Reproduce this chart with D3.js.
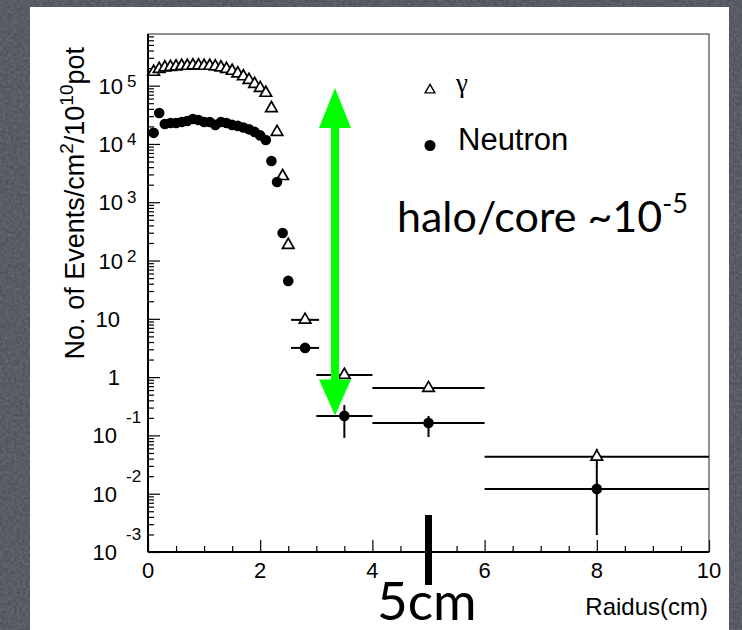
<!DOCTYPE html>
<html><head><meta charset="utf-8">
<script src="https://cdn.jsdelivr.net/npm/d3@7"></script>
<style>html,body{margin:0;padding:0;background:#4d5058;}</style>
</head><body>
<script>
// ---- data ----
const gammaX = [0.1,0.2,0.3,0.4,0.5,0.6,0.7,0.8,0.9,1.0,1.1,1.2,1.3,1.4,1.5,1.6,1.7,1.8,1.9,2.0,2.1,2.2,2.3,2.4,2.5,2.8,3.5,5,8];
const gammaY = [1.72e5,1.93e5,2.05e5,2.09e5,2.13e5,2.18e5,2.18e5,2.22e5,2.22e5,2.18e5,2.18e5,2.13e5,2.05e5,1.93e5,1.79e5,1.62e5,1.44e5,1.25e5,1.07e5,9.1e4,7.5e4,4.1e4,1.6e4,2.8e3,185,9.6,1.09,0.65,0.043];
const gammaXErr = [0,0,0,0,0,0,0,0,0,0,0,0,0,0,0,0,0,0,0,0,0,0,0,0,0,0.25,0.5,1,2];
const gammaYLow = [null,null,null,null,null,null,null,null,null,null,null,null,null,null,null,null,null,null,null,null,null,null,null,null,null,null,null,null,0.0257];
const gammaYHigh = [null,null,null,null,null,null,null,null,null,null,null,null,null,null,null,null,null,null,null,null,null,null,null,null,null,null,null,null,0.059];

const neutronX = gammaX.slice();
const neutronY = [1.55e4,3.4e4,2.2e4,2.29e4,2.29e4,2.38e4,2.48e4,2.68e4,2.58e4,2.38e4,2.38e4,2.12e4,2.38e4,2.29e4,2.12e4,2.04e4,1.92e4,1.78e4,1.61e4,1.4e4,1.17e4,5.1e3,2.23e3,297,44.7,3.17,0.216,0.164,0.0121];
const neutronXErr = gammaXErr.slice();
const neutronYLow = [null,null,null,null,null,null,null,null,null,null,null,null,null,null,null,null,null,null,null,null,null,null,null,null,null,null,0.0906,0.094,0.00195];
const neutronYHigh = [null,null,null,null,null,null,null,null,null,null,null,null,null,null,null,null,null,null,null,null,null,null,null,null,null,null,0.333,0.216,0.0257];

const xTickLabels = ["0","2","4","6","8","10"];
const yDecades = [-3,-2,-1,0,1,2,3,4,5];
const legendLabels = ["γ","Neutron"];
const xTitle = "Raidus(cm)";
const noteText = "halo/core ~10";
const noteSup = "-5";
const markText = "5cm";
const arrowTop = 9.1e4, arrowBottom = 0.22;   // data values the green arrow spans
const markX = 5;

// ---- drawing ----
const W = 742, H = 630;
const svg = d3.select("body").append("svg").attr("width", W).attr("height", H)
  .style("display","block");

const defs = svg.append("defs");
const flt = defs.append("filter").attr("id","grain").attr("x",0).attr("y",0).attr("width","100%").attr("height","100%");
flt.append("feTurbulence").attr("type","fractalNoise").attr("baseFrequency",0.35).attr("numOctaves",2).attr("seed",3).attr("result","n");
flt.append("feColorMatrix").attr("in","n").attr("type","matrix")
  .attr("values","0 0 0 0 0.2  0 0 0 0 0.21  0 0 0 0 0.24  0 0 0 0.9 -0.25");

svg.append("rect").attr("width",W).attr("height",H).attr("fill","#50535b");
svg.append("rect").attr("width",W).attr("height",H).attr("filter","url(#grain)");
svg.append("rect").attr("x",30).attr("y",7).attr("width",699).attr("height",640).attr("fill","#ffffff");

const x = d3.scaleLinear().domain([0,10]).range([148,709]);
const y = d3.scaleLog().domain([1e-3, Math.pow(10,5.886)]).range([552,34]);

// axes
const majorsY = yDecades.map(k => Math.pow(10,k));
const minorsY = [];
for (let k=-3;k<=5;k++) for (let m=2;m<=9;m++){ const v=m*Math.pow(10,k); if (v<=y.domain()[1]) minorsY.push(v);}
const axY1 = svg.append("g").attr("transform","translate(148,0)")
  .call(d3.axisLeft(y).tickValues(majorsY).tickSize(-12).tickFormat(""));
const axY2 = svg.append("g").attr("transform","translate(148,0)")
  .call(d3.axisLeft(y).tickValues(minorsY).tickSize(-6).tickFormat(""));
const axX1 = svg.append("g").attr("transform","translate(0,552)")
  .call(d3.axisBottom(x).tickValues(d3.range(0,10.01,2)).tickSize(-12).tickFormat(""));
const axX2 = svg.append("g").attr("transform","translate(0,552)")
  .call(d3.axisBottom(x).tickValues(d3.range(0.5,10,0.5).filter(v=>v%2!==0)).tickSize(-6).tickFormat(""));
[axY1,axY2,axX1,axX2].forEach(g=>{g.select(".domain").remove(); g.selectAll("line").attr("stroke","#000").attr("stroke-width",1.2);});

// frame
svg.append("rect").attr("x",148).attr("y",34).attr("width",709-148).attr("height",552-34)
  .attr("fill","none").attr("stroke","#222").attr("stroke-width",1);
svg.append("line").attr("x1",148).attr("x2",148).attr("y1",34).attr("y2",552).attr("stroke","#000").attr("stroke-width",2);
svg.append("line").attr("x1",148).attr("x2",709).attr("y1",552).attr("y2",552).attr("stroke","#000").attr("stroke-width",2);

const F = "'Liberation Sans', Arial, Helvetica, sans-serif";
// y tick labels
yDecades.forEach(k=>{
  const ty = y(Math.pow(10,k));
  const base = k===0 ? "1" : "10";
  const endX = k>=2 ? 123 : (k<0 ? 117 : 120);
  svg.append("text").attr("x",endX).attr("y",ty+8).attr("text-anchor","end")
    .attr("font-family",F).attr("font-size",22).attr("fill","#000").text(base);
  if (k>=2) svg.append("text").attr("x",127).attr("y",ty+1).attr("font-family",F).attr("font-size",17).text(String(k));
  if (k<0) svg.append("text").attr("x",126).attr("y",ty-12).attr("font-family",F).attr("font-size",17).text(String(k));
});
// x tick labels
xTickLabels.forEach((t,i)=>{
  svg.append("text").attr("x",x(+t)).attr("y",578).attr("text-anchor","middle")
    .attr("font-family",F).attr("font-size",22).text(t);
});
// titles
svg.append("text").attr("x",708).attr("y",615).attr("text-anchor","end")
  .attr("font-family",F).attr("font-size",24).text(xTitle);
const yt = svg.append("text").attr("transform","translate(84,47) rotate(-90)").attr("text-anchor","end")
  .attr("font-family",F).attr("font-size",27);
yt.append("tspan").text("No. of Events/cm");
yt.append("tspan").attr("font-size",19).attr("dy",-11).text("2");
yt.append("tspan").attr("dy",11).text("/10");
yt.append("tspan").attr("font-size",19).attr("dy",-11).text("10");
yt.append("tspan").attr("dy",11).text("pot");

// error bars
function bars(X, Y, XE, YL, YH){
  const g = svg.append("g").attr("stroke","#000").attr("stroke-width",2);
  X.forEach((xv,i)=>{
    if (XE[i]>0) g.append("line").attr("x1",x(xv-XE[i])).attr("x2",x(xv+XE[i])).attr("y1",y(Y[i])).attr("y2",y(Y[i]));
    if (YL[i]!=null) g.append("line").attr("x1",x(xv)).attr("x2",x(xv)).attr("y1",y(YL[i])).attr("y2",y(YH[i]));
  });
}
bars(gammaX,gammaY,gammaXErr,gammaYLow,gammaYHigh);
bars(neutronX,neutronY,neutronXErr,neutronYLow,neutronYHigh);

const tri = d3.symbol().type(d3.symbolTriangle).size(58);
svg.append("g").selectAll("path").data(gammaX).join("path")
  .attr("d",tri).attr("transform",(d,i)=>`translate(${x(d)},${y(gammaY[i])})`)
  .attr("fill","#fff").attr("stroke","#000").attr("stroke-width",1.7);
svg.append("g").selectAll("circle").data(neutronX).join("circle")
  .attr("cx",d=>x(d)).attr("cy",(d,i)=>y(neutronY[i])).attr("r",5.3).attr("fill","#000");

// legend
svg.append("path").attr("d",d3.symbol().type(d3.symbolTriangle).size(42)).attr("transform","translate(430,90)")
  .attr("fill","#fff").attr("stroke","#000").attr("stroke-width",1.4);
svg.append("text").attr("x",456).attr("y",92).attr("font-family","'Liberation Serif', 'DejaVu Serif', serif").attr("font-size",27).text(legendLabels[0]);
svg.append("circle").attr("cx",430).attr("cy",145.5).attr("r",5.5).attr("fill","#000");
svg.append("text").attr("x",458).attr("y",150).attr("font-family",F).attr("font-size",31).text(legendLabels[1]);

// annotation text
const nt = svg.append("text").attr("x",397).attr("y",232).attr("font-family","Lato, 'Open Sans', sans-serif").attr("font-size",43);
nt.append("tspan").text(noteText);
nt.append("tspan").attr("font-size",27).attr("dy",-19).text(noteSup);

// green arrow
const ax = 335;
const yT = y(arrowTop), yB = y(arrowBottom);
svg.append("line").attr("x1",ax).attr("x2",ax).attr("y1",yT+30).attr("y2",yB-30).attr("stroke","#00ff00").attr("stroke-width",8);
svg.append("path").attr("d",`M${ax},${yT} L${ax+16},${yT+40} L${ax-16},${yT+40} Z`).attr("fill","#00ff00");
svg.append("path").attr("d",`M${ax},${yB} L${ax+16},${yB-36} L${ax-16},${yB-36} Z`).attr("fill","#00ff00");

// 5cm marker
svg.append("rect").attr("x",x(markX)-3.5).attr("y",515).attr("width",7).attr("height",70).attr("fill","#000");
svg.append("text").attr("x",377).attr("y",620).attr("font-family","Lato, 'Open Sans', sans-serif").attr("font-size",53).text(markText);
</script>
</body></html>
